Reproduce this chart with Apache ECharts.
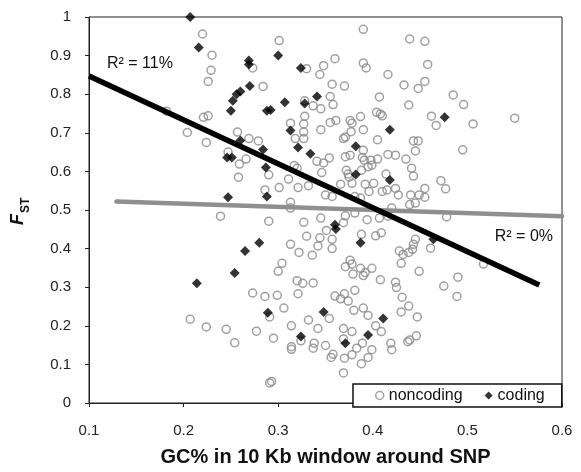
<!DOCTYPE html>
<html><head><meta charset="utf-8">
<script src="https://cdn.jsdelivr.net/npm/echarts@6/dist/echarts.min.js"></script>
<style>html,body{margin:0;padding:0;background:#fff}#c{width:581px;height:472px}</style>
</head><body><div id="c"></div>
<script>
// GC% (x) vs FST (y)
const noncoding = [
[0.220,0.956],[0.230,0.901],[0.229,0.862],[0.226,0.833],[0.273,0.868],[0.182,0.756],[0.221,0.740],[0.226,0.744],[0.204,0.701],[0.224,0.675],[0.257,0.702],[0.269,0.685],[0.279,0.679],[0.247,0.650],[0.259,0.619],[0.266,0.632],[0.258,0.585],
[0.390,0.968],[0.301,0.939],[0.439,0.943],[0.360,0.892],[0.348,0.874],[0.330,0.866],[0.344,0.851],[0.390,0.881],[0.393,0.868],[0.416,0.851],[0.284,0.820],[0.357,0.826],[0.370,0.821],[0.433,0.824],[0.407,0.793],[0.355,0.794],[0.328,0.783],[0.337,0.770],[0.345,0.762],[0.358,0.773],[0.438,0.772],[0.404,0.753],[0.408,0.749],[0.410,0.744],[0.328,0.743],[0.387,0.742],[0.313,0.725],[0.327,0.723],[0.355,0.727],[0.361,0.732],[0.376,0.732],[0.378,0.725],[0.345,0.708],[0.327,0.702],[0.390,0.708],[0.377,0.703],[0.327,0.685],[0.318,0.685],[0.369,0.685],[0.371,0.689],[0.405,0.682],[0.443,0.679],[0.390,0.655],[0.416,0.644],[0.424,0.642],[0.435,0.632],[0.354,0.635],[0.341,0.626],[0.348,0.622],[0.371,0.638],[0.376,0.642],[0.389,0.636],[0.391,0.629],[0.398,0.629],[0.405,0.632],[0.399,0.616],[0.395,0.612],[0.317,0.615],[0.320,0.608],[0.346,0.597],[0.290,0.591],[0.372,0.603],[0.374,0.593],[0.375,0.585],[0.388,0.603],[0.414,0.593],[0.441,0.608],[0.311,0.580],[0.321,0.558],[0.332,0.563],[0.301,0.558],[0.286,0.552],[0.366,0.567],[0.378,0.569],[0.392,0.567],[0.401,0.569],[0.396,0.548],[0.410,0.548],[0.415,0.552],[0.424,0.556],[0.427,0.539],[0.440,0.539],[0.350,0.539],[0.357,0.535],[0.381,0.535],[0.387,0.531],[0.313,0.520],
[0.455,0.937],[0.458,0.877],[0.455,0.833],[0.448,0.815],[0.485,0.798],[0.496,0.773],[0.462,0.743],[0.467,0.719],[0.506,0.723],[0.550,0.738],[0.448,0.679],[0.445,0.653],[0.495,0.656],[0.443,0.588],[0.472,0.576],[0.477,0.555],[0.455,0.556],[0.449,0.539],[0.455,0.533],[0.445,0.518],
[0.239,0.484],[0.273,0.285],[0.207,0.217],[0.224,0.197],[0.245,0.191],[0.254,0.156],[0.277,0.186],
[0.290,0.471],[0.327,0.468],[0.345,0.479],[0.371,0.485],[0.369,0.467],[0.381,0.492],[0.394,0.475],[0.407,0.479],[0.416,0.484],[0.420,0.505],[0.313,0.505],[0.351,0.447],[0.330,0.432],[0.344,0.428],[0.342,0.407],[0.357,0.424],[0.357,0.400],[0.313,0.411],[0.322,0.390],[0.336,0.383],[0.388,0.437],[0.403,0.433],[0.409,0.441],[0.428,0.394],[0.432,0.385],[0.438,0.390],[0.442,0.398],[0.430,0.362],[0.304,0.362],[0.300,0.341],[0.376,0.370],[0.378,0.360],[0.371,0.353],[0.387,0.349],[0.392,0.338],[0.399,0.349],[0.390,0.330],[0.379,0.334],[0.408,0.319],[0.424,0.313],[0.425,0.299],[0.431,0.274],[0.320,0.317],[0.326,0.310],[0.337,0.311],[0.321,0.283],[0.286,0.276],[0.299,0.279],[0.360,0.277],[0.366,0.270],[0.370,0.283],[0.374,0.264],[0.381,0.292],[0.306,0.246],[0.380,0.240],[0.390,0.246],[0.395,0.227],[0.403,0.200],[0.409,0.185],[0.430,0.236],[0.438,0.251],[0.332,0.215],[0.342,0.193],[0.354,0.219],[0.314,0.200],[0.295,0.168],[0.324,0.161],[0.314,0.146],[0.314,0.139],[0.338,0.155],[0.337,0.142],[0.350,0.149],[0.369,0.193],[0.378,0.185],[0.369,0.166],[0.358,0.126],[0.356,0.118],[0.378,0.125],[0.383,0.142],[0.389,0.155],[0.395,0.118],[0.399,0.138],[0.388,0.102],[0.370,0.116],[0.419,0.155],[0.420,0.138],[0.437,0.159],[0.369,0.078],[0.291,0.052],[0.293,0.056],[0.291,0.223],
[0.439,0.514],[0.478,0.482],[0.445,0.424],[0.443,0.411],[0.461,0.401],[0.449,0.341],[0.475,0.303],[0.490,0.326],[0.489,0.276],[0.517,0.360],[0.447,0.223],[0.446,0.174],[0.439,0.163]
];
const coding = [
[0.207,1.000],[0.216,0.921],[0.269,0.887],[0.269,0.877],[0.270,0.821],[0.252,0.783],[0.256,0.800],[0.260,0.807],[0.250,0.757],[0.260,0.680],[0.246,0.636],[0.251,0.636],[0.247,0.533],
[0.300,0.900],[0.324,0.868],[0.341,0.794],[0.307,0.779],[0.328,0.776],[0.288,0.757],[0.292,0.759],[0.313,0.706],[0.418,0.708],[0.284,0.657],[0.321,0.662],[0.334,0.646],[0.382,0.665],[0.287,0.610],[0.382,0.592],[0.418,0.578],[0.288,0.535],
[0.476,0.740],
[0.214,0.310],[0.254,0.337],[0.265,0.394],[0.280,0.415],
[0.360,0.462],[0.361,0.451],[0.387,0.415],[0.289,0.234],[0.348,0.236],[0.411,0.219],[0.395,0.176],[0.324,0.172],[0.371,0.155],
[0.464,0.424]
];
// trend lines (all SNPs: black, R² = 11%; noncoding: grey, R² = 0%)
const trendAllX = [0.1, 0.576];
const trendAllY = [0.847, 0.306];
const trendNonX = [0.129, 0.6];
const trendNonY = [0.522, 0.484];
const seriesNames = ['noncoding', 'coding'];
const r2Labels = ['R² = 11%', 'R² = 0%'];
const xTitle = 'GC% in 10 Kb window around SNP';
const xRange = [0.1, 0.6], yRange = [0, 1], tickStep = 0.1;

const FONT = '"Liberation Sans", Arial, sans-serif';
const chart = echarts.init(document.getElementById('c'), null, {renderer: 'canvas'});
const zip = (xs, ys) => xs.map((x, i) => [x, ys[i]]);
const axisCommon = {
  type: 'value', interval: tickStep,
  axisLine: {show: true, onZero: false, lineStyle: {color: '#222', width: 1}},
  axisTick: {show: true, inside: false, length: 4, lineStyle: {color: '#222'}},
  splitLine: {show: false},
  axisLabel: {color: '#222', fontSize: 15, fontFamily: FONT}
};
chart.setOption({
  animation: false,
  backgroundColor: '#fff',
  grid: {left: 89, right: 19, top: 17, bottom: 65, show: true, borderColor: '#222', borderWidth: 1, containLabel: false},
  xAxis: Object.assign({}, axisCommon, {
    min: xRange[0], max: xRange[1],
    axisLabel: Object.assign({}, axisCommon.axisLabel, {margin: 20}),
    name: xTitle, nameLocation: 'middle', nameGap: 44,
    nameTextStyle: {fontSize: 20, fontWeight: 'bold', color: '#111', fontFamily: FONT}
  }),
  yAxis: Object.assign({}, axisCommon, {
    min: yRange[0], max: yRange[1],
    axisLabel: Object.assign({}, axisCommon.axisLabel, {margin: 18})
  }),
  legend: {
    left: 353, top: 384, orient: 'horizontal',
    padding: [3, 17, 3, 22], itemGap: 22, itemWidth: 8, itemHeight: 8,
    backgroundColor: '#fff', borderColor: '#111', borderWidth: 1.5, borderRadius: 0,
    textStyle: {fontSize: 16, fontFamily: FONT, color: '#111', lineHeight: 17, padding: [0,0,0,0]},
    data: [
      {name: seriesNames[0], icon: 'circle', itemStyle: {color: 'rgba(0,0,0,0)', borderColor: '#888', borderWidth: 1.5}},
      {name: seriesNames[1], icon: 'diamond', itemStyle: {color: '#000'}}
    ]
  },
  series: [
    {name: seriesNames[0], type: 'scatter', data: noncoding, symbol: 'circle', symbolSize: 8,
     itemStyle: {color: 'rgba(0,0,0,0)', borderColor: '#888', borderWidth: 1.5}, z: 2},
    {name: seriesNames[1], type: 'scatter', data: coding, symbol: 'diamond', symbolSize: 10,
     itemStyle: {color: '#000'}, z: 3},
    {name: 'trendNon', type: 'line', data: zip(trendNonX, trendNonY), symbol: 'none',
     lineStyle: {color: '#8f8f8f', width: 4.5, cap: 'round'}, z: 4, silent: true},
    {name: 'trendAll', type: 'line', data: zip(trendAllX, trendAllY), symbol: 'none',
     lineStyle: {color: '#000', width: 5.5}, z: 5, silent: true}
  ],
  graphic: [
    {type: 'text', left: 107, top: 56, style: {text: r2Labels[0], font: '16px ' + FONT, fill: '#111'}},
    {type: 'text', right: 28, top: 229, style: {text: r2Labels[1], font: '16px ' + FONT, fill: '#111'}},
    {type: 'group', x: 27, y: 212, rotation: Math.PI / 2, children: [
      {type: 'text', x: -13, y: 0, style: {text: 'F', font: 'italic bold 18px ' + FONT, fill: '#111', textAlign: 'left', textVerticalAlign: 'bottom'}},
      {type: 'text', x: -1, y: 5, style: {text: 'ST', font: 'bold 12px ' + FONT, fill: '#111', textAlign: 'left', textVerticalAlign: 'bottom'}}
    ]}
  ]
});
</script></body></html>
